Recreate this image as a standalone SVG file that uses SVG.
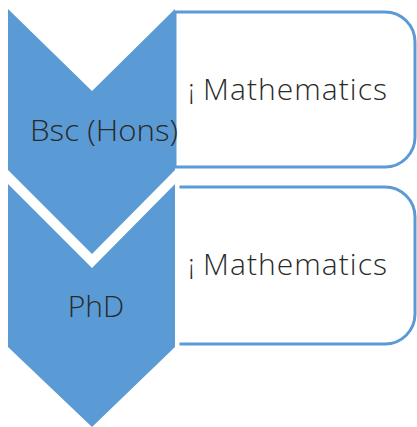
<svg xmlns="http://www.w3.org/2000/svg" width="417" height="427" viewBox="0 0 417 427">
<style>
.box{fill:#fff;stroke:#5b9bd5;stroke-width:3}
.chev{fill:#5b9bd5}
.chev2{fill:#5b9bd5;stroke:#fff;stroke-width:9;stroke-linejoin:miter}
text{font-family:"Open Sans","Liberation Sans",sans-serif;font-weight:300;fill:#2a2a2a;font-size:30px}
.bul{font-size:28px}
</style>
<rect width="417" height="427" fill="#fff"/>
<g id="box1"><path class="box" d="M175,12 H385 A30,30 0 0 1 415,42 V137 A30,30 0 0 1 385,167 H175 Z"/><text class="bul" x="188" y="99">¡</text><text x="203" y="100" textLength="184" lengthAdjust="spacing">Mathematics</text></g>
<g id="box2"><path class="box" d="M175,187 H385 A30,30 0 0 1 415,217 V314 A30,30 0 0 1 385,344 H175 Z"/><text class="bul" x="188" y="274">¡</text><text x="203" y="275" textLength="184" lengthAdjust="spacing">Mathematics</text></g>
<g id="chev1"><path class="chev" d="M8,9 L92,91 L175,9 V170 L92,254 L8,170 Z"/><text x="30" y="141" textLength="148" lengthAdjust="spacingAndGlyphs">Bsc (Hons)</text></g>
<g id="chev2"><path class="chev2" d="M8,180 L92,263 L175,180 V347 L92,431 L8,347 Z"/><path class="chev" d="M8,184 L92,268 L175,184 V347 L92,427 L8,347 Z"/><text x="96" y="317" text-anchor="middle">PhD</text></g>
<g id="connectors"/>
</svg>
